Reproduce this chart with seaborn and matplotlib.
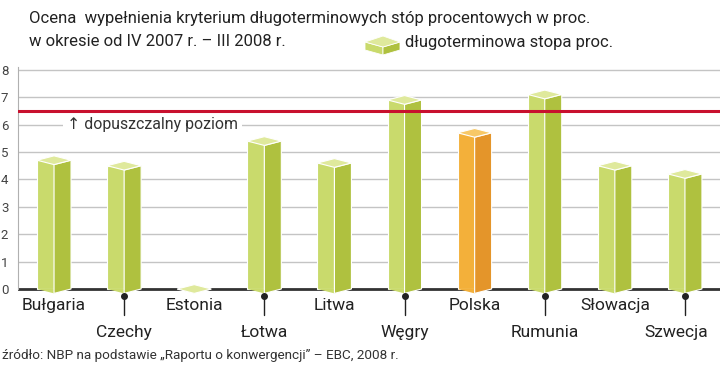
import matplotlib.pyplot as plt
import seaborn as sns
import pandas as pd
from matplotlib.patches import Polygon

# dane
countries = ["Bułgaria", "Czechy", "Estonia", "Łotwa", "Litwa",
             "Węgry", "Polska", "Rumunia", "Słowacja", "Szwecja"]
rates = [4.7, 4.5, 0.0, 5.4, 4.6, 6.9, 5.7, 7.1, 4.5, 4.2]
reference_level = 6.5
highlight = "Polska"
y_ticks = [0, 1, 2, 3, 4, 5, 6, 7, 8]

title_lines = ["Ocena  wypełnienia kryterium długoterminowych stóp procentowych w proc.",
               "w okresie od IV 2007 r. – III 2008 r."]
legend_label = "długoterminowa stopa proc."
ref_label = "dopuszczalny poziom"
source = "źródło: NBP na podstawie „Raportu o konwergencji” – EBC, 2008 r."

# kolory scian
green = {"front": "#c9da6c", "side": "#afc13f", "top": "#dfe99c"}
orange = {"front": "#f3b03a", "side": "#e4952a", "top": "#f7c867"}

df = pd.DataFrame({"kraj": countries, "stopa": rates})

sns.set_style("white")
plt.rcParams["font.family"] = ["Roboto", "DejaVu Sans"]

W, H = 720, 373
fig = plt.figure(figsize=(7.2, 3.73), dpi=100)
ax = fig.add_axes([0.025, 0.2105, 0.975, 0.6097])


def px(x, y):
    # piksele -> wspolrzedne figury
    return (x / W, 1 - y / H)


palette = {c: (orange if c == highlight else green)["front"] for c in countries}
sns.barplot(data=df, x="kraj", y="stopa", hue="kraj", palette=palette,
            saturation=1, width=0.485, legend=False, ax=ax, linewidth=0, zorder=3)

depth = 0.16  # spadek naroznika w jednostkach osi y
for patch, c, v in zip(ax.patches, countries, rates):
    cols = orange if c == highlight else green
    x0, w = patch.get_x(), patch.get_width() / 2
    xc = x0 + w
    patch.set_width(w)
    patch.set_edgecolor("white")
    patch.set_linewidth(0.8)
    # dolny trojkat lewej sciany
    ax.add_patch(Polygon([(x0, 0), (xc, -depth), (xc, 0)], closed=True,
                         facecolor=cols["front"], edgecolor="none", zorder=3))
    # prawa sciana
    ax.add_patch(Polygon([(xc, -depth), (xc + w, 0), (xc + w, v), (xc, v - depth)],
                         closed=True, facecolor=cols["side"], edgecolor="white",
                         linewidth=0.8, zorder=3))
    # gorna sciana
    ax.add_patch(Polygon([(x0, v), (xc, v + depth), (xc + w, v), (xc, v - depth)],
                         closed=True, facecolor=cols["top"], edgecolor="white",
                         linewidth=0.8, zorder=4))

ax.set_xlim(-0.514, 9.50)
ax.set_ylim(-0.2, 8.1)
ax.set_yticks(y_ticks)
ax.set_xticks([])
ax.set_xlabel("")
ax.set_ylabel("")
ax.yaxis.grid(True, color="#c4c4c4", linewidth=1)
ax.set_axisbelow(True)
ax.tick_params(axis="y", length=0, pad=7, labelsize=9.5, labelcolor="#444444")
for s in ["top", "right", "bottom"]:
    ax.spines[s].set_visible(False)
ax.spines["left"].set_color("#b0b0b0")
ax.spines["left"].set_bounds(0, 8.1)

ax.axhline(0, color="#333333", linewidth=2, zorder=1)
ax.axhline(reference_level, color="#c8102e", linewidth=2.2, zorder=5)
ax.text(0.18, 6.0, "\u2191 " + ref_label, fontsize=11.4, color="#333333",
        va="center", ha="left", zorder=2,
        bbox=dict(facecolor="white", edgecolor="none", pad=3))

# etykiety krajow w dwoch rzedach
for i, c in enumerate(countries):
    shift = -0.13 if i == len(countries) - 1 else 0
    if i % 2 == 0:
        ax.text(i, -0.62, c, ha="center", va="center", fontsize=12.5,
                color="#222222", clip_on=False)
    else:
        ax.plot([i, i], [-0.24, -0.95], color="#222222", linewidth=1,
                clip_on=False, zorder=6)
        ax.plot(i, -0.24, "o", color="#222222", markersize=4,
                clip_on=False, zorder=6)
        ax.text(i + shift, -1.57, c, ha="center", va="center", fontsize=12.5,
                color="#222222", clip_on=False)

# tytul
fig.text(*px(29, 18), title_lines[0], ha="left", va="center", fontsize=12,
         color="#222222")
fig.text(*px(29, 41), title_lines[1], ha="left", va="center", fontsize=12,
         color="#222222")

# legenda - maly szescian
faces = [
    ([(365, 42), (383, 47), (383, 55), (365, 50)], green["front"]),
    ([(383, 47), (400, 42), (400, 50), (383, 55)], green["side"]),
    ([(365, 42), (383, 36), (400, 42), (383, 47)], green["top"]),
]
for pts, col in faces:
    fig.patches.append(Polygon([px(x, y) for x, y in pts], closed=True,
                               transform=fig.transFigure, facecolor=col,
                               edgecolor="white", linewidth=0.6))
fig.text(*px(405, 43), legend_label, ha="left", va="center",
         fontsize=12, color="#222222")

fig.text(*px(2, 356), source, ha="left", va="center",
         fontsize=9.7, color="#333333")

fig.savefig("out.png", dpi=100)
